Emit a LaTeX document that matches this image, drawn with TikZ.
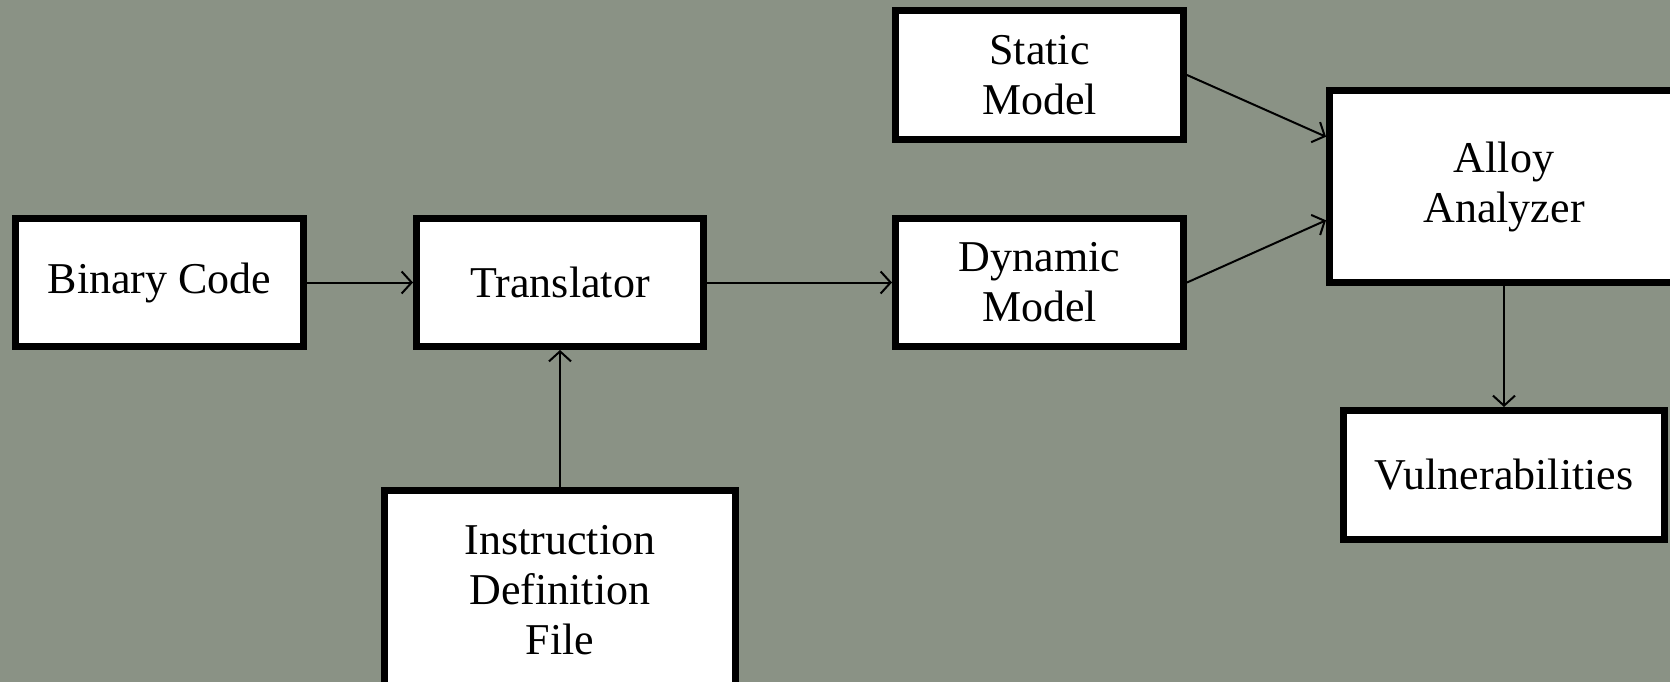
\documentclass[tikz,border=0pt]{standalone}
\usepackage{fontspec}
\setmainfont{Liberation Serif}
\usetikzlibrary{arrows.meta,calc}
\definecolor{bgcol}{RGB}{138,146,133}
\begin{document}
\begin{tikzpicture}[x=1pt,y=-1pt,
  box/.style={draw=black, fill=white, line width=7pt, align=center, inner sep=0pt,
    font=\fontsize{44}{50}\selectfont},
  conn/.style={line width=2pt, -{Straight Barb[length=10pt,width=22pt,line width=2pt]}}]
\fill[bgcol] (0,0) rectangle (1670,682);
\useasboundingbox (0,0) rectangle (1670,682);
\node[box, minimum width=288pt, minimum height=128pt] (bin) at (159.5,282.5) {Binary Code};
\node[box, minimum width=287pt, minimum height=128pt] (tr) at (560,282.5) {Translator};
\node[box, minimum width=288pt, minimum height=129pt] (st) at (1039.5,75) {Static\\Model};
\node[box, minimum width=288pt, minimum height=128pt] (dy) at (1039.5,282.5) {Dynamic\\Model};
\node[box, minimum width=349pt, minimum height=192pt] (al) at (1504,186.5) {Alloy\\Analyzer};
\node[box, minimum width=321pt, minimum height=129pt] (vu) at (1504,475) {Vulnerabilities};
\node[box, minimum width=351pt, minimum height=199pt] (in) at (560,590) {Instruction\\Definition\\File};
\coordinate (alA) at ($(al.north west)!0.25!(al.south west)$);
\coordinate (alB) at ($(al.north west)!0.67!(al.south west)$);
\draw[conn] (bin.east) -- (tr.west);
\draw[conn] (tr.east) -- (dy.west);
\draw[conn] (in.north) -- (tr.south);
\draw[conn] (st.east) -- (alA);
\draw[conn] (dy.east) -- (alB);
\draw[conn] (al.south) -- (vu.north);
\end{tikzpicture}
\end{document}
